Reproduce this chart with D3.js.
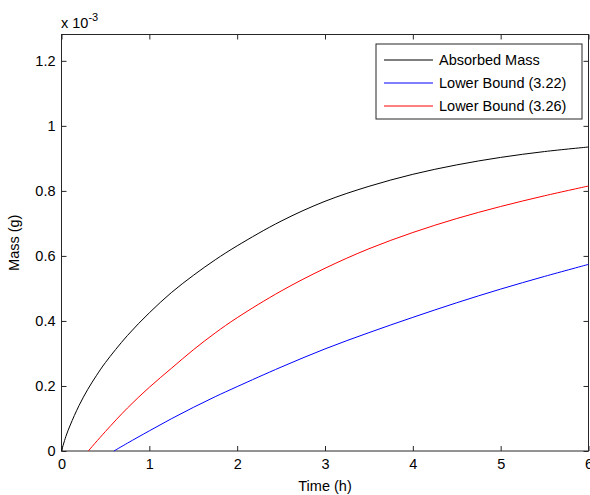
<!DOCTYPE html>
<html>
<head>
<meta charset="utf-8">
<script src="https://cdn.jsdelivr.net/npm/d3@7"></script>
<style>
	body { margin: 0; background: #fff; }
	svg text { font-family: "Liberation Sans", Arial, sans-serif; fill: #000; }
</style>
</head>
<body>
<script>
var SIZE = { width: 590, height: 495 };
var MARGIN = { top: 34.5, right: 1.5, bottom: 44, left: 61.5 };

// values, mass in units of 1e-3 g
var absorbedT = [0, 0.05, 0.1, 0.2, 0.3, 0.4, 0.5, 0.75, 1, 1.25, 1.5, 1.75, 2, 2.5, 3, 3.5, 4, 4.5, 5, 5.5, 6];
var absorbedM = [0, 0.045, 0.08, 0.14, 0.19, 0.233, 0.272, 0.355, 0.425, 0.487, 0.54, 0.588, 0.631, 0.707, 0.768, 0.814, 0.851, 0.88, 0.903, 0.921, 0.935];

var bound322T = [0.597, 0.75, 1, 1.25, 1.5, 1.75, 2, 2.5, 3, 3.5, 4, 4.5, 5, 5.5, 6];
var bound322M = [0, 0.024, 0.062, 0.099, 0.134, 0.167, 0.198, 0.258, 0.314, 0.364, 0.411, 0.456, 0.498, 0.537, 0.574];

var bound326T = [0.305, 0.5, 0.75, 1, 1.25, 1.5, 1.75, 2, 2.5, 3, 3.5, 4, 4.5, 5, 5.5, 6];
var bound326M = [0, 0.06, 0.132, 0.196, 0.254, 0.311, 0.363, 0.41, 0.492, 0.562, 0.622, 0.672, 0.715, 0.752, 0.785, 0.815];

var xTicks = [0, 1, 2, 3, 4, 5, 6];
var yTicks = [0, 0.2, 0.4, 0.6, 0.8, 1, 1.2];
var seriesNames = ['Absorbed Mass', 'Lower Bound (3.22)', 'Lower Bound (3.26)'];
var seriesColors = ['#000000', '#0000ff', '#ff0000'];

var w = SIZE.width - MARGIN.left - MARGIN.right;
var h = SIZE.height - MARGIN.top - MARGIN.bottom;

var svg = d3.select('body').append('svg')
	.attr('width', SIZE.width)
	.attr('height', SIZE.height);

var g = svg.append('g')
	.attr('transform', 'translate(' + MARGIN.left + ',' + MARGIN.top + ')');

var x = d3.scaleLinear().domain([0, 6]).range([0, w]);
var y = d3.scaleLinear().domain([0, 1.281]).range([h, 0]);

var tickLen = 5;
var fmt = function (d) { return d3.format('~g')(d); };

// box
g.append('rect')
	.attr('width', w).attr('height', h)
	.attr('fill', 'none').attr('stroke', '#262626');

// inward ticks on all four sides
var xAxisB = g.append('g').attr('transform', 'translate(0,' + h + ')')
	.call(d3.axisBottom(x).tickValues(xTicks).tickSize(-tickLen).tickPadding(8).tickFormat(fmt));
var xAxisT = g.append('g')
	.call(d3.axisTop(x).tickValues(xTicks).tickSize(-tickLen).tickFormat(''));
var yAxisL = g.append('g')
	.call(d3.axisLeft(y).tickValues(yTicks).tickSize(-tickLen).tickPadding(6).tickFormat(fmt));
var yAxisR = g.append('g').attr('transform', 'translate(' + w + ',0)')
	.call(d3.axisRight(y).tickValues(yTicks).tickSize(-tickLen).tickFormat(''));

[xAxisB, xAxisT, yAxisL, yAxisR].forEach(function (a) {
	a.select('.domain').remove();
	a.selectAll('line').attr('stroke', '#262626');
	a.selectAll('text').style('font-size', '14.5px').attr('fill', '#000');
});
xAxisB.selectAll('text').attr('dy', '0.71em');

// curves
var line = d3.line()
	.x(function (d) { return x(d[0]); })
	.y(function (d) { return y(d[1]); })
	.curve(d3.curveCatmullRom.alpha(0.5));

var series = [
	d3.zip(absorbedT, absorbedM),
	d3.zip(bound322T, bound322M),
	d3.zip(bound326T, bound326M)
];

g.selectAll('path.curve')
	.data(series)
	.enter()
	.append('path')
	.classed('curve', true)
	.attr('d', line)
	.attr('fill', 'none')
	.attr('stroke', function (d, i) { return seriesColors[i]; })
	.attr('stroke-width', 1);

// exponent label
var expo = svg.append('text')
	.attr('x', 61).attr('y', 28)
	.style('font-size', '14.5px');
expo.append('tspan').text('x 10');
expo.append('tspan').attr('dy', -7).style('font-size', '11px').text('-3');

// axis labels
svg.append('text')
	.attr('x', MARGIN.left + w / 2).attr('y', 491)
	.attr('text-anchor', 'middle')
	.style('font-size', '14.5px')
	.text('Time (h)');

svg.append('text')
	.attr('transform', 'translate(19,' + (MARGIN.top + h / 2) + ') rotate(-90)')
	.attr('text-anchor', 'middle')
	.style('font-size', '14.5px')
	.text('Mass (g)');

// legend
var legend = svg.append('g').attr('transform', 'translate(376,44)');
legend.append('rect')
	.attr('width', 206).attr('height', 75)
	.attr('fill', '#fff').attr('stroke', '#262626');

var rows = legend.selectAll('g.row')
	.data(seriesNames)
	.enter()
	.append('g')
	.classed('row', true)
	.attr('transform', function (d, i) { return 'translate(0,' + (16 + i * 23) + ')'; });

rows.append('line')
	.attr('x1', 8).attr('x2', 57)
	.attr('stroke', function (d, i) { return seriesColors[i]; });

rows.append('text')
	.attr('x', 63).attr('dy', '0.35em')
	.style('font-size', '14.5px')
	.text(function (d) { return d; });
</script>
</body>
</html>
